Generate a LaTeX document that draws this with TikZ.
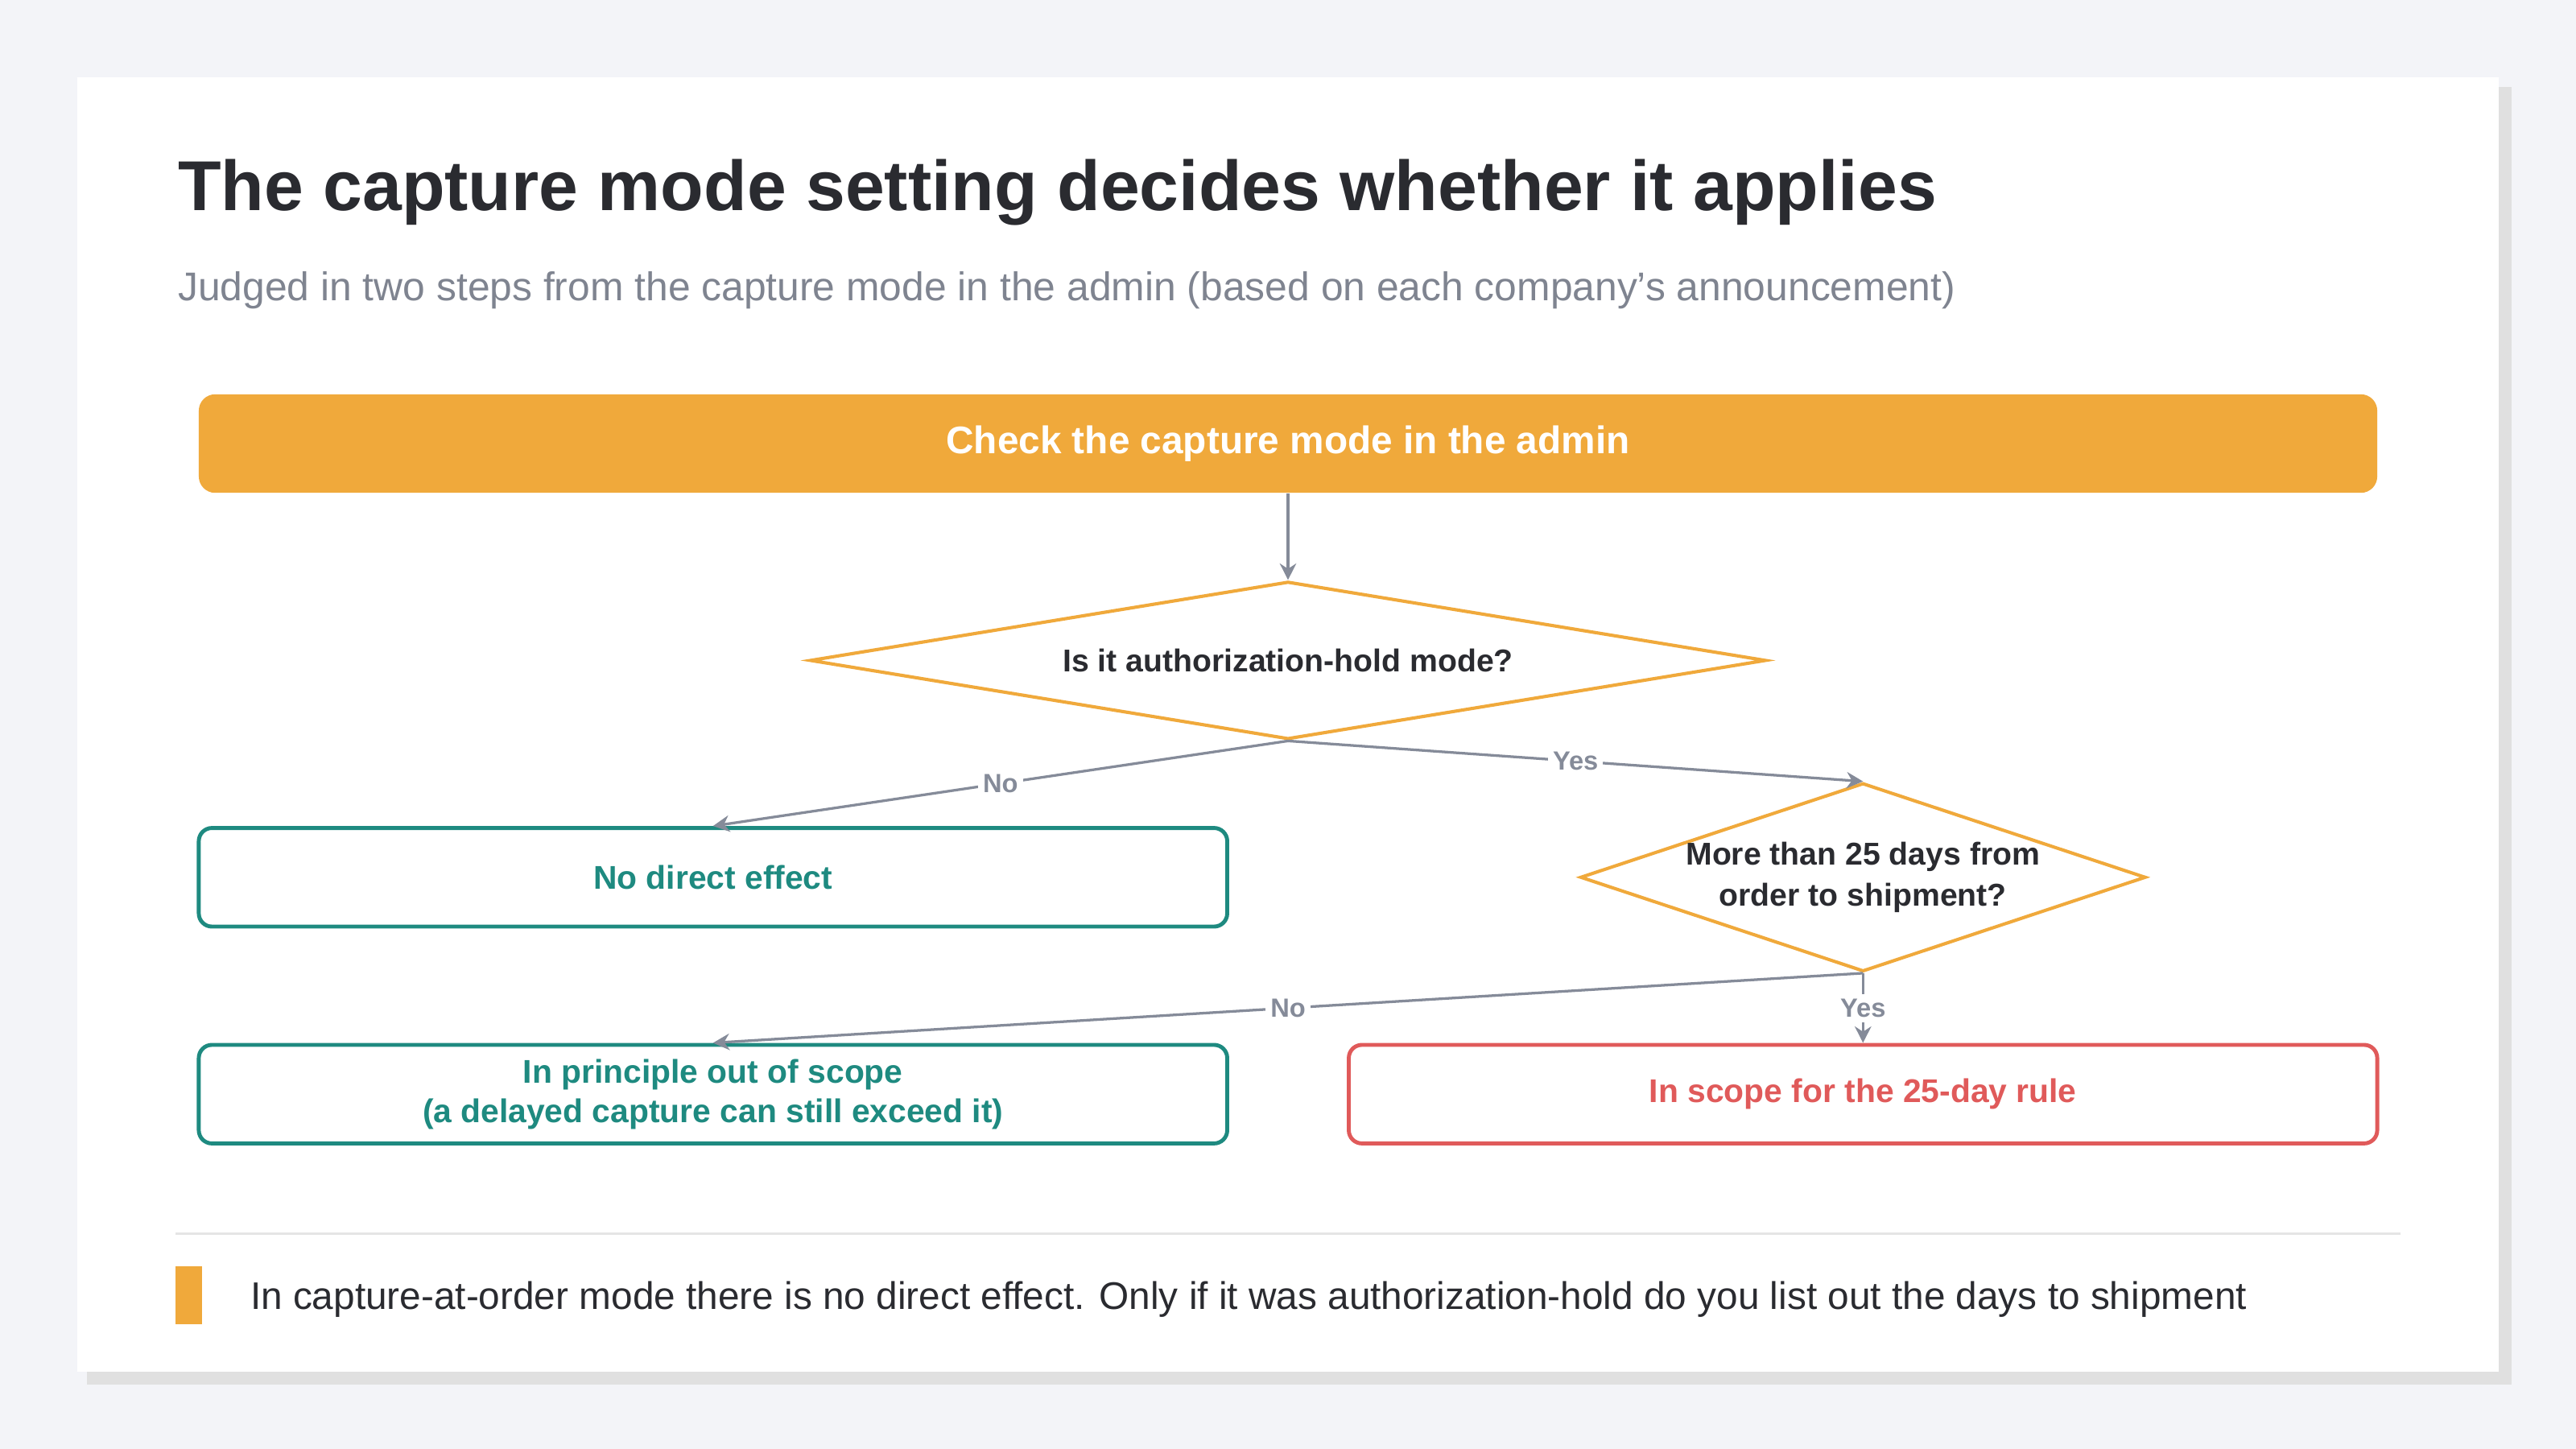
\documentclass[tikz,border=0pt]{standalone}
\usepackage{fontspec}
\setmainfont{Liberation Sans}
\usetikzlibrary{shapes.geometric,arrows.meta}
\definecolor{pagebg}{HTML}{F3F4F8}
\definecolor{accent}{HTML}{F0A93B}
\definecolor{teal}{HTML}{1E8A80}
\definecolor{alert}{HTML}{E05A5A}
\definecolor{arrowgray}{HTML}{858B99}
\definecolor{ink}{HTML}{2A2B30}
\definecolor{subgray}{HTML}{7F8490}
\begin{document}
\begin{tikzpicture}
[x=0.5pt, y=-0.5pt,
 box/.style={draw, rounded corners=4pt, line width=1.2pt, fill=white, minimum width=313pt, minimum height=30pt, font=\bfseries\fontsize{10}{12}\selectfont, align=center},
 decision/.style={diamond, draw=accent, line width=1pt, fill=white, inner sep=0pt, font=\bfseries\fontsize{9.6}{12.5}\selectfont, text=ink, align=center},
 flow/.style={draw=arrowgray, line width=0.8pt, -{Stealth[length=5pt,width=5pt]}},
 tag/.style={fill=white, text=arrowgray, font=\bfseries\fontsize{8}{9}\selectfont, inner sep=1.5pt}]
\useasboundingbox[fill=pagebg] (0,0) rectangle (1568,882);
% card
\fill[black!12] (53,53) rectangle (1529,843);
\fill[white] (47,47) rectangle (1521,835);
% heading
\node (title) [anchor=base west, inner sep=0pt, text=ink, font=\bfseries\fontsize{21.5}{26}\selectfont] at (108,128) {The capture mode setting decides whether it applies};
\node (subtitle) [anchor=base west, inner sep=0pt, text=subgray, font=\fontsize{12.2}{14}\selectfont] at (108,183) {Judged in two steps from the capture mode in the admin (based on each company{\char39}s announcement)};
% flow
\node (check) [fill=accent, rounded corners=5pt, minimum width=663pt, minimum height=30pt, text=white, font=\bfseries\fontsize{11.7}{13}\selectfont] at (784,270) {Check the capture mode in the admin};
\node (hold) [decision, aspect=6, minimum width=291pt, minimum height=48pt] at (784,402) {Is it authorization-hold mode?};
\node (noeffect) [box, draw=teal, text=teal] at (434,534) {No direct effect};
\node (days) [decision, aspect=3, minimum width=149pt, minimum height=49pt] at (1134,534) {More than 25 days from\\order to shipment?};
\node (outscope) [box, draw=teal, text=teal] at (434,666) {In principle out of scope\\(a delayed capture can still exceed it)};
\node (inscope) [box, draw=alert, text=alert] at (1134,666) {In scope for the 25-day rule};
\draw[flow] (check.south) -- (hold.north);
\draw[flow] (hold.south) -- node[tag, pos=0.5] {No} (noeffect.north);
\draw[flow] (hold.south) -- node[tag, pos=0.5] {Yes} (days.north);
\draw[flow] (days.south) -- node[tag, pos=0.5] {No} (outscope.north);
\draw[flow] (days.south) -- node[tag, pos=0.5] {Yes} (inscope.north);
% footer
\draw[black!10, line width=0.6pt] (107,751) -- (1461,751);
\fill[accent] (107,771) rectangle (123,806);
\node (note) [anchor=base west, inner sep=0pt, text=ink, font=\fontsize{11.7}{14}\selectfont] at (152,797) {In capture-at-order mode there is no direct effect. Only if it was authorization-hold do you list out the days to shipment};
\end{tikzpicture}
\end{document}
